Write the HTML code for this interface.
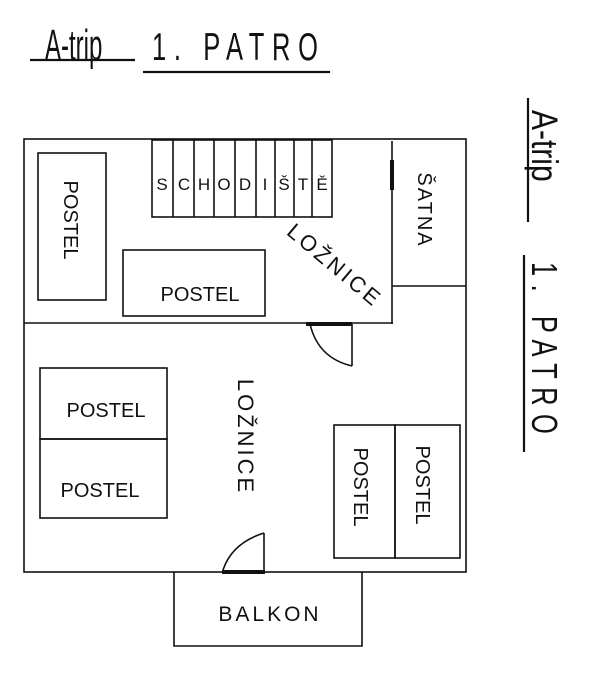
<!DOCTYPE html>
<html><head><meta charset="utf-8"><style>html,body{margin:0;padding:0;background:#fff}svg{display:block}</style></head>
<body>
<svg width="600" height="684" viewBox="0 0 600 684" xmlns="http://www.w3.org/2000/svg" font-family="Liberation Sans, sans-serif" fill="none" stroke="#111" stroke-width="1.6">
<!-- titles -->
<line x1="30" y1="60" x2="135" y2="60" stroke-width="2.2"/>
<line x1="143" y1="72" x2="330" y2="72" stroke-width="2.2"/>
<g fill="#111" stroke="none" font-size="30">
<text transform="translate(45,60) scale(0.8,1.45)">A-trip</text>
<text transform="translate(152,60) scale(0.85,1.3)" letter-spacing="9">1. PATRO</text>
</g>
<line x1="528" y1="98" x2="528" y2="222" stroke-width="2.2"/>
<line x1="524" y1="255" x2="524" y2="452" stroke-width="2.2"/>
<g fill="#111" stroke="none" font-size="30">
<text transform="translate(532,110) rotate(90) scale(1,1.25)">A-trip</text>
<text transform="translate(532,262) rotate(90) scale(0.85,1.2)" letter-spacing="10">1. PATRO</text>
</g>
<!-- outer -->
<rect x="24" y="139" width="442" height="433"/>
<line x1="24" y1="323" x2="393" y2="323"/>
<line x1="392" y1="141" x2="392" y2="324"/>
<line x1="392" y1="286" x2="466" y2="286"/>
<line x1="392" y1="160" x2="392" y2="190" stroke-width="4"/>
<!-- stairs -->
<rect x="152" y="140" width="180" height="77"/>
<g>
<line x1="173" y1="140" x2="173" y2="217"/><line x1="194" y1="140" x2="194" y2="217"/>
<line x1="214" y1="140" x2="214" y2="217"/><line x1="235" y1="140" x2="235" y2="217"/>
<line x1="256" y1="140" x2="256" y2="217"/><line x1="275" y1="140" x2="275" y2="217"/>
<line x1="294" y1="140" x2="294" y2="217"/><line x1="312" y1="140" x2="312" y2="217"/>
</g>
<g fill="#111" stroke="none" font-size="17" text-anchor="middle">
<text x="162" y="190">S</text><text x="184" y="190">C</text><text x="204" y="190">H</text>
<text x="224" y="190">O</text><text x="245" y="190">D</text><text x="265" y="190">I</text>
<text x="284" y="190">Š</text><text x="303" y="190">T</text><text x="322" y="190">Ě</text>
</g>
<!-- beds -->
<rect x="38" y="153" width="68" height="147"/>
<rect x="123" y="250" width="142" height="66"/>
<rect x="40" y="368" width="127" height="71"/>
<rect x="40" y="439" width="127" height="79"/>
<rect x="334" y="425" width="61" height="133"/>
<rect x="395" y="425" width="65" height="133"/>
<g fill="#111" stroke="none" font-size="20" text-anchor="middle">
<text transform="translate(64,220) rotate(90)">POSTEL</text>
<text x="200" y="301">POSTEL</text>
<text x="106" y="417">POSTEL</text>
<text x="100" y="497">POSTEL</text>
<text transform="translate(354,487) rotate(90)">POSTEL</text>
<text transform="translate(416,485) rotate(90)">POSTEL</text>
<text transform="translate(418,210) rotate(90)" font-size="20" letter-spacing="2">ŠATNA</text>
<text transform="translate(330,271) rotate(40)" font-size="22" letter-spacing="3">LOŽNICE</text>
<text transform="translate(238,437) rotate(90)" font-size="22" letter-spacing="3">LOŽNICE</text>
<text x="270" y="621" font-size="21" letter-spacing="3">BALKON</text>
</g>
<!-- doors -->
<line x1="306" y1="324" x2="352" y2="324" stroke-width="4"/>
<line x1="352" y1="324" x2="352" y2="366"/>
<path d="M310 324 Q318 358 352 366"/>
<line x1="222" y1="572" x2="265" y2="572" stroke-width="4"/>
<line x1="264" y1="572" x2="264" y2="533"/>
<path d="M223 570 Q232 543 264 533"/>
<!-- balcony -->
<path d="M174 572 V646 H362 V572"/>
</svg>
</body></html>
